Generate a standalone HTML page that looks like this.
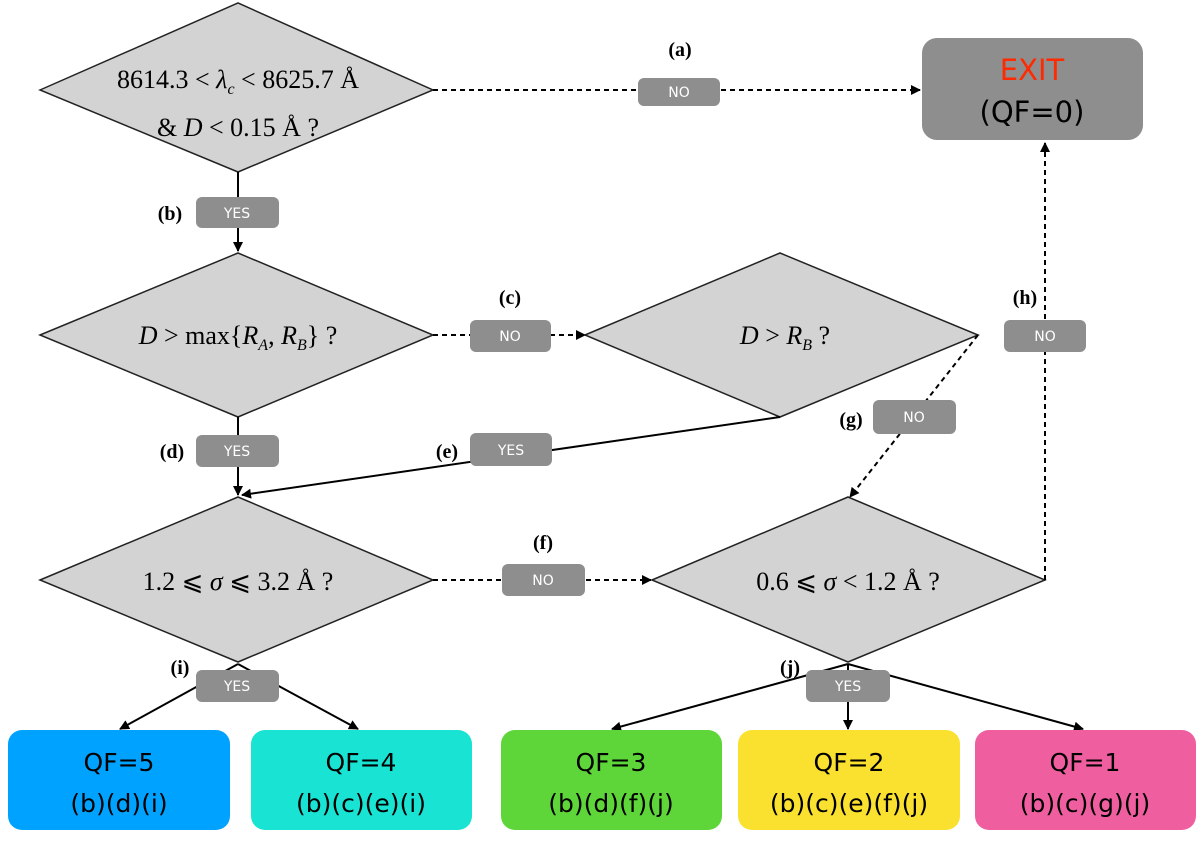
<!DOCTYPE html>
<html><head><meta charset="utf-8"><style>
body{margin:0;background:#fff;width:1200px;height:840px;overflow:hidden}
svg text{font-family:"Liberation Serif",serif}
svg .sans text, svg text.sans{font-family:"DejaVu Sans","Liberation Sans",sans-serif}
</style></head><body>
<svg width="1200" height="840" viewBox="0 0 1200 840" xmlns="http://www.w3.org/2000/svg">
<defs>
<marker id="a" viewBox="0 0 10 10" refX="9" refY="5" markerWidth="10" markerHeight="10" markerUnits="userSpaceOnUse" orient="auto"><path d="M0,0L10,5L0,10z" fill="#000"/></marker>
</defs>
<g fill="#d3d3d3" stroke="#222" stroke-width="1.5">
<polygon points="40,90 238,3 433,90 238,172"/>
<polygon points="40,335 238,253 433,335 238,417"/>
<polygon points="585,335 780,253 978,335 780,417"/>
<polygon points="40,580 238,497 433,580 238,662"/>
<polygon points="652,580 848,497 1045,580 848,662"/>
</g>
<g stroke="#000" stroke-width="2" fill="none">
<g stroke-dasharray="5,4">
<line x1="433" y1="90" x2="920" y2="90" marker-end="url(#a)"/>
<line x1="433" y1="335" x2="585" y2="335" marker-end="url(#a)"/>
<line x1="978" y1="335" x2="850" y2="497" marker-end="url(#a)"/>
<line x1="433" y1="580" x2="651" y2="580" marker-end="url(#a)"/>
<polyline points="1045,580 1045,143" marker-end="url(#a)"/>
</g>
<line x1="238" y1="172" x2="238" y2="251" marker-end="url(#a)"/>
<line x1="238" y1="417" x2="238" y2="495" marker-end="url(#a)"/>
<line x1="780" y1="417" x2="242" y2="495" marker-end="url(#a)"/>
<line x1="238" y1="664" x2="120" y2="729" marker-end="url(#a)"/>
<line x1="238" y1="664" x2="358" y2="729" marker-end="url(#a)"/>
<line x1="848" y1="664" x2="612" y2="729" marker-end="url(#a)"/>
<line x1="848" y1="664" x2="848" y2="729" marker-end="url(#a)"/>
<line x1="848" y1="664" x2="1083" y2="729" marker-end="url(#a)"/>
</g>
<rect x="922" y="38" width="221" height="102" rx="15" fill="#8e8e8e"/>
<g class="sans">
<text x="1032" y="80" text-anchor="middle" font-size="29" fill="#ff2a00">EXIT</text>
<text x="1032" y="122" text-anchor="middle" font-size="29" fill="#000">(QF=0)</text>
</g>
<g fill="#8e8e8e">
<rect x="638" y="78" width="82" height="28" rx="6"/>
<rect x="196" y="197" width="83" height="31" rx="6"/>
<rect x="470" y="320" width="81" height="32" rx="6"/>
<rect x="1004" y="320" width="82" height="32" rx="6"/>
<rect x="196" y="435" width="83" height="32" rx="6"/>
<rect x="470" y="433" width="82" height="33" rx="6"/>
<rect x="873" y="400" width="83" height="34" rx="6"/>
<rect x="502" y="564" width="83" height="32" rx="6"/>
<rect x="196" y="670" width="83" height="32" rx="6"/>
<rect x="806" y="670" width="84" height="32" rx="6"/>
</g>
<g fill="#fff" class="sans" font-size="14" text-anchor="middle">
<text x="679" y="97">NO</text><text x="237" y="218">YES</text>
<text x="510" y="341">NO</text><text x="1045" y="341">NO</text>
<text x="237" y="456">YES</text><text x="511" y="455">YES</text>
<text x="914" y="422">NO</text><text x="543" y="585">NO</text>
<text x="237" y="691">YES</text><text x="848" y="691">YES</text>
</g>
<g font-size="20" font-weight="bold" text-anchor="middle">
<text x="680" y="56">(a)</text><text x="170" y="220">(b)</text>
<text x="510" y="304">(c)</text><text x="1025" y="304">(h)</text>
<text x="172" y="458">(d)</text><text x="447" y="458">(e)</text>
<text x="851" y="426">(g)</text><text x="543" y="549">(f)</text>
<text x="180" y="674">(i)</text><text x="790" y="674">(j)</text>
</g>
<g font-size="26" text-anchor="middle">
<text x="238" y="88">8614.3 &lt; <tspan font-style="italic">λ</tspan><tspan font-size="16" font-style="italic" dy="6">c</tspan><tspan dy="-6"> &lt; 8625.7 Å</tspan></text>
<text x="238" y="136">&amp; <tspan font-style="italic">D</tspan> &lt; 0.15 Å ?</text>
<text x="238" y="344"><tspan font-style="italic">D</tspan> &gt; max{<tspan font-style="italic">R</tspan><tspan font-size="16" font-style="italic" dy="6">A</tspan><tspan dy="-6">, </tspan><tspan font-style="italic">R</tspan><tspan font-size="16" font-style="italic" dy="6">B</tspan><tspan dy="-6">} ?</tspan></text>
<text x="785" y="344"><tspan font-style="italic">D</tspan> &gt; <tspan font-style="italic">R</tspan><tspan font-size="16" font-style="italic" dy="6">B</tspan><tspan dy="-6"> ?</tspan></text>
<text x="238" y="590">1.2 ⩽ <tspan font-style="italic">σ</tspan> ⩽ 3.2 Å ?</text>
<text x="848" y="590">0.6 ⩽ <tspan font-style="italic">σ</tspan> &lt; 1.2 Å ?</text>
</g>
<rect x="8" y="730" width="222" height="100" rx="14" fill="#00a2ff"/>
<rect x="251" y="730" width="221" height="100" rx="14" fill="#19e3d3"/>
<rect x="501" y="730" width="221" height="100" rx="14" fill="#5ed63a"/>
<rect x="738" y="730" width="222" height="100" rx="14" fill="#fbe12f"/>
<rect x="975" y="730" width="221" height="100" rx="14" fill="#ef5fa0"/>
<g class="sans" font-size="25" text-anchor="middle" fill="#000">
<text x="119" y="771">QF=5</text><text x="119" y="812">(b)(d)(i)</text>
<text x="361" y="771">QF=4</text><text x="361" y="812">(b)(c)(e)(i)</text>
<text x="611" y="771">QF=3</text><text x="611" y="812">(b)(d)(f)(j)</text>
<text x="849" y="771">QF=2</text><text x="849" y="812">(b)(c)(e)(f)(j)</text>
<text x="1085" y="771">QF=1</text><text x="1085" y="812">(b)(c)(g)(j)</text>
</g>
</svg>
</body></html>
